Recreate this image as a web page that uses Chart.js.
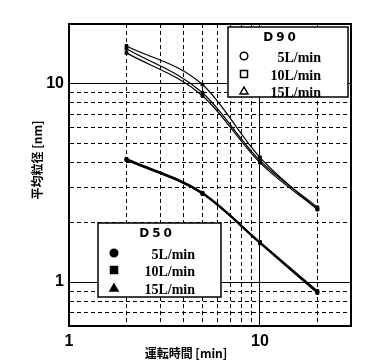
<!DOCTYPE html>
<html>
<head>
<meta charset="utf-8">
<script src="https://cdn.jsdelivr.net/npm/chart.js@4"></script>
<style>
html, body { margin: 0; padding: 0; background: #fff; }
</style>
</head>
<body>
<canvas id="myChart" width="385" height="363"></canvas>
<script>
// run time [min]
const times = [2, 5, 10, 20];
// D90 mean particle size [nm]
const d90_5 = [15.5, 9.9, 4.25, 2.32];
const d90_10 = [15.0, 9.0, 4.1, 2.38];
const d90_15 = [14.3, 8.7, 4.0, 2.33];
// D50 mean particle size [nm]
const d50_5 = [4.15, 2.8, 1.58, 0.89];
const d50_10 = [4.12, 2.78, 1.57, 0.88];
const d50_15 = [4.18, 2.82, 1.59, 0.90];

const flowLabels = ['5L/min', '10L/min', '15L/min'];
const xGrid = [1, 2, 3, 4, 5, 6, 7, 8, 9, 10, 20, 30];
const yGrid = [0.6, 0.7, 0.8, 0.9, 1, 2, 3, 4, 5, 6, 7, 8, 9, 10, 20];
const xTickLabels = [1, 10];
const yTickLabels = [1, 10];
const xTitle = '運転時間 [min]';
const yTitle = '平均粒径 [nm]';

function isDecade (v) {
    var l = Math.log10(v);
    return Math.abs(l - Math.round(l)) < 1e-6;
}

function pts (ys) {
    return times.map(function (t, i) { return {x: t, y: ys[i]}; });
}

function line (label, ys, width) {
    return {
        label: label,
        data: pts(ys),
        borderColor: '#000',
        borderWidth: width,
        backgroundColor: '#000',
        pointBackgroundColor: '#000',
        pointBorderColor: '#000',
        pointBorderWidth: 1,
        pointStyle: 'rect',
        pointRadius: 2,
        cubicInterpolationMode: 'monotone',
        fill: false
    };
}

function marker (ctx, style, x, y, filled) {
    ctx.beginPath();
    if (style === 'circle') {
        ctx.arc(x, y, 3.8, 0, Math.PI * 2);
    } else if (style === 'rect') {
        ctx.rect(x - 3.5, y - 3.5, 7, 7);
    } else {
        ctx.moveTo(x, y - 4);
        ctx.lineTo(x + 4, y + 3);
        ctx.lineTo(x - 4, y + 3);
        ctx.closePath();
    }
    if (filled) { ctx.fillStyle = '#000'; ctx.fill(); }
    ctx.lineWidth = 1.5;
    ctx.strokeStyle = '#000';
    ctx.stroke();
}

function legendBox (ctx, x, y, w, h, title, titleX, filled, textRight, rows) {
    ctx.save();
    ctx.fillStyle = '#fff';
    ctx.fillRect(x, y, w, h);
    ctx.lineWidth = 1.5;
    ctx.strokeStyle = '#000';
    ctx.strokeRect(x, y, w, h);
    ctx.fillStyle = '#000';
    ctx.textBaseline = 'middle';
    ctx.font = 'bold 12px "DejaVu Sans"';
    ctx.letterSpacing = '3px';
    ctx.textAlign = 'center';
    ctx.fillText(title, x + titleX, y + 11);
    ctx.letterSpacing = '0px';
    ctx.font = 'bold 14px "Liberation Serif"';
    ctx.textAlign = 'right';
    var styles = ['circle', 'rect', 'triangle'];
    for (var i = 0; i < flowLabels.length; i++) {
        marker(ctx, styles[i], x + 16, y + rows[i], filled);
        ctx.fillStyle = '#000';
        ctx.fillText(flowLabels[i], x + textRight, y + rows[i] + 2);
    }
    ctx.restore();
}

const overlay = {
    id: 'overlay',
    afterDraw: function (chart) {
        var ctx = chart.ctx;
        var a = chart.chartArea;
        ctx.save();
        ctx.lineWidth = 2;
        ctx.strokeStyle = '#000';
        ctx.strokeRect(a.left, a.top, a.right - a.left, a.bottom - a.top);
        ctx.restore();

        legendBox(ctx, a.left + 159, a.top + 3, 120, 70, 'D90', 53, false, 93, [29, 47, 64]);
        legendBox(ctx, a.left + 29, a.top + 199, 123, 74, 'D50', 59, true, 97, [30, 47, 65]);

        ctx.save();
        ctx.fillStyle = '#000';
        ctx.textAlign = 'center';
        ctx.textBaseline = 'middle';
        ctx.font = 'bold 12px "Noto Sans CJK JP"';
        ctx.fillText(xTitle, 186, 353);
        ctx.translate(37, 160);
        ctx.rotate(-Math.PI / 2);
        ctx.fillText(yTitle, 0, 0);
        ctx.restore();
    }
};

function gridDash (c) {
    return c.tick && !isDecade(c.tick.value) ? [4, 3] : [];
}

var ctx = document.getElementById('myChart').getContext('2d');
var chart = new Chart(ctx, {
    type: 'line',
    data: {
        datasets: [
            line('D90 5L/min', d90_5, 1.2),
            line('D90 10L/min', d90_10, 1.2),
            line('D90 15L/min', d90_15, 1.2),
            line('D50 5L/min', d50_5, 1.6),
            line('D50 10L/min', d50_10, 1.6),
            line('D50 15L/min', d50_15, 1.6)
        ]
    },
    options: {
        responsive: false,
        animation: false,
        devicePixelRatio: 1,
        layout: { padding: { left: 0, top: 24, right: 34, bottom: 0 } },
        plugins: {
            legend: { display: false },
            tooltip: { enabled: false }
        },
        scales: {
            x: {
                type: 'logarithmic',
                min: 1,
                max: 30,
                afterBuildTicks: function (s) { s.ticks = xGrid.map(function (v) { return {value: v}; }); },
                afterFit: function (s) { s.height = 37; },
                grid: { color: '#000', lineWidth: 1, drawTicks: false },
                border: { display: true, color: '#000', width: 2, dash: gridDash },
                ticks: {
                    autoSkip: false,
                    maxRotation: 0,
                    padding: 6,
                    color: '#000',
                    font: { family: 'Liberation Sans', weight: 'bold', size: 16 },
                    callback: function (v) { return xTickLabels.includes(v) ? String(v) : ''; }
                }
            },
            y: {
                type: 'logarithmic',
                min: 0.6,
                max: 20,
                afterBuildTicks: function (s) { s.ticks = yGrid.map(function (v) { return {value: v}; }); },
                afterFit: function (s) { s.width = 69; },
                grid: { color: '#000', lineWidth: 1, drawTicks: false },
                border: { display: true, color: '#000', width: 2, dash: gridDash },
                ticks: {
                    autoSkip: false,
                    padding: 5,
                    color: '#000',
                    font: { family: 'Liberation Sans', weight: 'bold', size: 16 },
                    callback: function (v) { return yTickLabels.includes(v) ? String(v) : ''; }
                }
            }
        }
    },
    plugins: [overlay]
});
</script>
</body>
</html>
